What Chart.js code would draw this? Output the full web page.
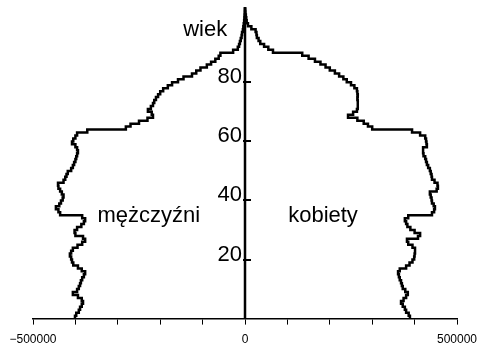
<!DOCTYPE html>
<html>
<head>
<meta charset="utf-8">
<script src="https://cdn.jsdelivr.net/npm/chart.js@4/dist/chart.umd.min.js"></script>
<style>
  body { margin: 0; background: #fff; }
  #wrap { width: 478px; height: 355px; }
</style>
</head>
<body>
<div id="wrap"><canvas id="pyramid" width="478" height="355"></canvas></div>
<script>
// wiek 0..105, liczba ludnosci w tysiacach
var ages = [];
for (var a = 0; a <= 105; a++) ages.push(a);

var menK = [
  401, 398, 392, 389, 385, 382, 385, 394, 406, 396,
  392, 389, 387, 384, 380, 377, 385, 394, 405, 408,
  410, 413, 410, 406, 395, 384, 377, 382, 400, 402,
  396, 386, 380, 377, 384, 436, 440, 446, 438, 434,
  430, 428, 432, 436, 440, 441, 428, 424, 421, 418,
  410, 406, 403, 400, 398, 396, 394, 396, 400, 408,
  405, 400, 396, 372, 281, 270, 250, 230, 217, 220,
  229, 222, 217, 214, 210, 205, 200, 193, 182, 172,
  158, 145, 125, 115, 105, 90, 80, 70, 62, 58,
  28, 17, 14, 12, 10, 8, 7, 5, 4, 3,
  2, 1.5, 1, 0.5, 0.3, 0
];

var womenK = [
  389, 386, 380, 377, 372, 368, 374, 380, 384, 378,
  372, 370, 368, 365, 363, 361, 365, 380, 388, 395,
  399, 400, 401, 401, 395, 385, 382, 408, 413, 400,
  390, 383, 380, 377, 385, 441, 446, 448, 445, 441,
  440, 438, 436, 452, 455, 454, 447, 441, 440, 438,
  436, 432, 429, 427, 425, 421, 420, 420, 429, 428,
  427, 425, 413, 394, 300, 290, 280, 265, 243, 255,
  264, 266, 266, 266, 265, 266, 265, 264, 258, 250,
  240, 232, 222, 212, 200, 190, 178, 165, 150, 135,
  66, 55, 45, 36, 32, 28, 27, 25, 15, 7,
  4, 3, 2, 1, 0.5, 0
];

var xLabelValues = [-500000, 0, 500000];
var ageTicks = [20, 40, 60, 80];

var menPts = ages.map(function (a, i) { return { x: -menK[i] * 1000, y: a }; });
var womenPts = ages.map(function (a, i) { return { x: womenK[i] * 1000, y: a }; });

var FONT = "'Liberation Sans', Arial, sans-serif";

var centerAxis = {
  id: 'centerAxis',
  afterDatasetsDraw: function (chart) {
    var ctx = chart.ctx;
    var xs = chart.scales.x, ys = chart.scales.y;
    var x0 = xs.getPixelForValue(0);
    ctx.save();
    ctx.strokeStyle = '#000';
    ctx.lineWidth = 2.5;
    ctx.beginPath();
    ctx.moveTo(x0, ys.getPixelForValue(0));
    ctx.lineTo(x0, chart.chartArea.top);
    ctx.stroke();

    ctx.lineWidth = 2;
    ctx.fillStyle = '#000';
    ctx.font = '22px ' + FONT;
    ctx.textAlign = 'right';
    ctx.textBaseline = 'alphabetic';
    ageTicks.forEach(function (t) {
      var py = Math.round(ys.getPixelForValue(t));
      ctx.beginPath();
      ctx.moveTo(x0 - 2, py);
      ctx.lineTo(x0 + 6, py);
      ctx.stroke();
      ctx.fillText(String(t), x0 - 3, py + 1);
    });

    ctx.textAlign = 'center';
    ctx.fillText('wiek', xs.getPixelForValue(-94000), ys.getPixelForValue(95.6));
    ctx.fillText('mężczyźni', xs.getPixelForValue(-227000), ys.getPixelForValue(32.6));
    ctx.fillText('kobiety', xs.getPixelForValue(184000), ys.getPixelForValue(32.6));
    ctx.restore();
  }
};

new Chart(document.getElementById('pyramid'), {
  type: 'scatter',
  data: {
    datasets: [{
      label: 'mężczyźni',
      data: menPts,
      showLine: true,
      stepped: 'after',
      borderColor: '#000',
      borderWidth: 2.5,
      pointRadius: 0,
      fill: false
    }, {
      label: 'kobiety',
      data: womenPts,
      showLine: true,
      stepped: 'after',
      borderColor: '#000',
      borderWidth: 2.5,
      pointRadius: 0,
      fill: false
    }]
  },
  options: {
    responsive: false,
    animation: false,
    layout: { padding: { left: 33, right: 21, top: 7, bottom: 0 } },
    plugins: {
      legend: { display: false },
      tooltip: { enabled: false }
    },
    scales: {
      x: {
        type: 'linear',
        min: -500000,
        max: 500000,
        afterFit: function (scale) {
          scale.paddingLeft = 0;
          scale.paddingRight = 0;
        },
        border: { display: true, color: '#000', width: 1.5 },
        grid: { drawOnChartArea: false, drawTicks: true, tickLength: 6, color: '#000', lineWidth: 1 },
        ticks: {
          stepSize: 100000,
          autoSkip: false,
          maxRotation: 0,
          padding: 8,
          color: '#000',
          font: { family: FONT, size: 12 },
          callback: function (v) {
            if (xLabelValues.indexOf(v) < 0) return '';
            return v < 0 ? '\u2212' + Math.abs(v) : String(v);
          }
        }
      },
      y: {
        type: 'linear',
        display: false,
        min: 0,
        max: 105.5
      }
    }
  },
  plugins: [centerAxis]
});
</script>
</body>
</html>
